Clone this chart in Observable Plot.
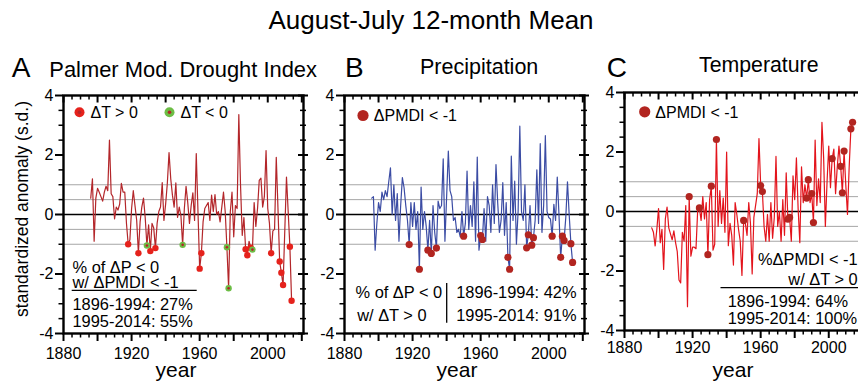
<!DOCTYPE html>
<html><head><meta charset="utf-8">
<script src="https://cdn.jsdelivr.net/npm/d3@7"></script>
<script src="https://cdn.jsdelivr.net/npm/@observablehq/plot@0.6"></script>
<style>
html,body{margin:0;padding:0;background:#fff;}
#root{position:relative;width:858px;height:381px;overflow:hidden;font-family:"Liberation Sans",Arial,Helvetica,sans-serif;}
#root svg{position:absolute;}
</style></head><body><div id="root"></div>
<script>
// ---------------- data ----------------
const firstYear = 1896;   // series run 1896 ... 2014
// Palmer Modified Drought Index (standardized)
const pmdi = [
  0.55, 1.2, -0.9, 0.55,
  0.88, 0.75, 0.6, 0.45, 0.75, 0.95, 0.8, 2.5, 0.7, 0.6,
  -0.15, 0.25, 0.15, 0.35, 1.05, 0.75, 0.75, -0.3, -1.0, -0.85,
  0.2, 0.8, 0.3, -0.2, -1.3, -0.25, 0.25, 0.55, -0.1, -1.04,
  -0.35, -1.23, -0.3, -0.45, -1.13, -0.3, 0.1, 0.25, 1.07, -0.2,
  0.35, 1.05, 2.08, 1.2, 0.65, 0.25, 1.06, -0.1, 0.25, -0.05,
  -1.02, 0.2, 0.95, 0.4, -0.3, 0.3, 0.73, -0.2, 2.05, 0.1,
  -1.82, -1.3, -0.25, 0.2, 0.3, 0.4, -0.2, 0.65, 0.1, 0.67,
  0.0, 0.1, -0.25, 0.25, 0.75, 0.1, -1.1, -2.48, 0.1, 0.75,
  -0.75, 0.3, 0.2, 3.36, 1.0, -0.7, -0.1, -1.17, -1.37, -0.9,
  -1.12, -1.18, 0.4, -0.4, 0.2, 1.15, 1.22, 0.25, 0.6, 2.15,
  0.2, -0.3, -1.3, -0.55, -0.5, 1.92, 0.2, -1.58, -1.96, -2.37,
  -0.55, 1.26, 0.1, -1.08, -2.9
];
// Precipitation (standardized)
const precip = [
  0.55, 0.6, -1.2, -0.3,
  0.4, 0.1, 0.75, 0.5, 0.8, 0.6, 1.1, 1.57, 0.0, 1.0,
  -0.2, 0.7, -0.9, 0.3, 1.24, 0.9, 0.3, -0.2, -1.01, 0.4,
  -0.4, 0.4, -0.5, 0.1, -1.84, 0.92, -0.5, 0.1, -0.4, -1.2,
  -0.2, -1.31, 0.3, -0.6, -1.13, 0.45, 0.2, 0.3, 1.87, -0.9,
  0.6, 2.13, 0.8, 0.6, -0.2, -0.1, -0.6, -0.5, -0.75, 0.1,
  -0.73, -0.3, 1.46, -0.5, 0.3, -0.4, 1.1, -0.9, 1.93, -1.2,
  -0.71, -0.84, 0.2, -0.9, 0.6, 0.3, -0.6, 1.0, -0.3, 1.68,
  0.4, -0.6, -0.2, 1.07, -0.7, 0.4, -1.44, -1.84, 1.96, -0.2,
  1.12, -1.0, 0.1, 2.97, 0.1, -0.2, 1.0, -1.12, -0.68, 0.3,
  -1.03, -0.78, -0.2, 1.5, -0.3, 2.38, -0.6, 0.3, 2.65, 0.1,
  -0.1, -0.15, -0.73, 0.34, -0.2, 1.26, 0.0, -1.44, -0.73, -0.87,
  -0.1, 1.1, 0.0, -0.98, -1.61
];
// Temperature (standardized)
const temp = [
  -0.55, -0.7, -1.16, -0.6,
  0.1, -1.05, -0.6, -1.95, -0.25, 0.15, -0.55, -0.75, -0.95, -0.65,
  -1.05, -1.35, -2.3, -2.4, -0.7, -1.0, 0.2, -3.2, 0.5, -1.5,
  -1.2, -1.2, -1.25, 0.05, 0.12, -0.3, 0.5, -0.25, 0.3, -1.45,
  0.4, 0.85, -1.3, -1.1, 2.42, -0.5, 0.7, -0.4, 0.45, -0.7,
  2.0, -1.15, -0.4, -0.8, -1.8, 0.3, -0.1, -0.6, -1.0, -2.15,
  -0.3, -0.4, -0.8, 0.3, -0.4, -2.1, -0.2, 0.2, 0.6, 2.45,
  0.87, 0.67, -0.5, -1.0, -0.1, -1.0, 0.3, -0.9, -0.2, 1.85,
  -0.5, 0.0, -1.0, 0.4, -0.8, 1.3, -0.26, -0.2, -1.0, 1.2,
  0.4, 1.8, 0.1, -1.05, 1.5, 0.3, 0.9, 0.45, 1.07, 0.3,
  0.6, -0.37, 2.4, 0.2, 1.1, 0.3, 3.0, 1.8, -0.5, 1.0,
  2.2, 0.8, 1.78, 2.1, 0.6, 1.5, 2.2, 1.52, 0.63, 2.03,
  0.9, -0.1, 1.5, 2.78, 3.0
];
// years with a PMDI drop below -1 (highlighted)
const droughtYears = [1918, 1924, 1929, 1931, 1934, 1950, 1960, 1961, 1976, 1977,
                      1987, 1988, 1990, 1991, 2002, 2007, 2008, 2009, 2013, 2014];
const xTickLabels = [1880, 1920, 1960, 2000];
const yTickLabels = [-4, -2, 0, 2, 4];
const refLevels = [-1, -0.5, 0.5, 1];
const titleText = "August-July 12-month Mean";
const panelLetters = ["A", "B", "C"];
const panelTitles = ["Palmer Mod. Drought Index", "Precipitation", "Temperature"];
const yAxisLabel = "standardized anomaly (s.d.)";
const xAxisLabel = "year";
const legendA = ["ΔT > 0", "ΔT < 0"];
const legendBC = "ΔPMDI < -1";
const noteA = ["% of ΔP < 0", "w/ ΔPMDI < -1", "1896-1994: 27%", "1995-2014: 55%"];
const noteB = ["% of ΔP < 0", "w/ ΔT > 0", "1896-1994: 42%", "1995-2014: 91%"];
const noteC = ["%ΔPMDI < -1", "w/ ΔT > 0", "1896-1994: 64%", "1995-2014: 100%"];

[pmdi, precip, temp].forEach(s => { if (s.length !== 119) throw new Error("series length " + s.length); });

// ---------------- drawing ----------------
const FONT = '"Liberation Sans", Arial, Helvetica, sans-serif';
const root = document.getElementById("root");
const svgNS = "http://www.w3.org/2000/svg";
const ML = 50, MT = 95, FW = 240, FH = 238, MR = 20, MB = 48;
const TXT_SHIFT = -5.5;

const toRows = vals => vals.map((v, i) => ({year: firstYear + i, value: v}));
const rowsP = toRows(pmdi), rowsPr = toRows(precip), rowsT = toRows(temp);
const tempByYear = new Map(rowsT.map(d => [d.year, d.value]));
const pick = rows => rows.filter(d => droughtYears.includes(d.year));

const minorYears = d3.range(1880, 2021, 5).filter(v => v % 20 !== 0);
const majorYears = d3.range(1880, 2021, 20);
const minorLevels = d3.range(-4, 4.001, 0.5).filter(v => v % 2 !== 0);
const majorLevels = [-4, -2, 0, 2, 4];

function mkLine(g, x1, y1, x2, y2, w) {
  const l = document.createElementNS(svgNS, "line");
  l.setAttribute("x1", x1); l.setAttribute("y1", y1);
  l.setAttribute("x2", x2); l.setAttribute("y2", y2);
  l.setAttribute("stroke", "#000"); l.setAttribute("stroke-width", w);
  g.appendChild(l);
}
function lineMark(x1, y1, x2, y2, w) {
  return () => {
    const g = document.createElementNS(svgNS, "g");
    mkLine(g, ML + x1, MT + y1, ML + x2, MT + y2, w || 1.2);
    return g;
  };
}
// frame tick marks as Plot tick marks (full-frame ticks trimmed with insets)
function frameTickMarks() {
  const k = {stroke: "#000", strokeOpacity: 1};
  return [
    Plot.tickX(minorYears, {x: d => d, insetBottom: FH - 4.5, strokeWidth: 1.5, ...k}),
    Plot.tickX(majorYears, {x: d => d, insetBottom: FH - 7.5, strokeWidth: 2, ...k}),
    Plot.tickX(minorYears, {x: d => d, insetTop: FH, insetBottom: -4.5, strokeWidth: 1.5, ...k}),
    Plot.tickX(majorYears, {x: d => d, insetTop: FH, insetBottom: -8, strokeWidth: 2, ...k}),
    Plot.tickY(minorLevels, {y: d => d, insetRight: FW, insetLeft: -4.5, strokeWidth: 1.5, ...k}),
    Plot.tickY(majorLevels, {y: d => d, insetRight: FW, insetLeft: -8, strokeWidth: 2, ...k}),
    Plot.tickY(minorLevels, {y: d => d, insetLeft: FW - 3, insetRight: -3, strokeWidth: 1.5, ...k}),
    Plot.tickY(majorLevels, {y: d => d, insetLeft: FW - 5, insetRight: -5, strokeWidth: 2, ...k})
  ];
}
function note(txt, dx, dy, anchor) {
  return Plot.text([txt], {text: d => d, frameAnchor: "top-left", dx, dy: dy + TXT_SHIFT,
    textAnchor: anchor || "start", fontSize: 16.4, fill: "#000"});
}
function legendText(txt, dx, dy) {
  return Plot.text([txt], {text: d => d, frameAnchor: "top-left", dx, dy: dy + TXT_SHIFT,
    textAnchor: "start", fontSize: 16, fill: "#000"});
}

function panel({left, top, rows, color, dots, extra, xPad}) {
  const chart = Plot.plot({
    width: ML + FW + MR, height: MT + FH + MB,
    marginLeft: ML, marginRight: MR, marginTop: MT, marginBottom: MB,
    x: {domain: [1880, 2021]},
    y: {domain: [-4, 4]},
    style: {fontFamily: FONT, fontSize: "16px", background: "transparent", color: "#000", overflow: "visible"},
    marks: [
      Plot.ruleY(refLevels, {stroke: "#a6a6a6", strokeWidth: 1}),
      Plot.ruleY([0], {stroke: "#000", strokeWidth: 1.3}),
      Plot.line(rows, {x: "year", y: "value", stroke: color, strokeWidth: 1.2}),
      ...dots,
      Plot.frame({stroke: "#000", strokeWidth: 2.4}),
      ...frameTickMarks(),
      Plot.axisX({anchor: "bottom", ticks: xTickLabels, tickSize: 0, tickPadding: xPad, tickFormat: d => String(d), fontSize: 16, label: null}),
      Plot.axisY({anchor: "left", ticks: yTickLabels, tickSize: 0, tickPadding: 10, tickFormat: d => String(d), fontSize: 16, label: null}),
      ...extra
    ]
  });
  chart.style.left = left + "px";
  chart.style.top = top + "px";
  root.appendChild(chart);
}

const RED_A = "#e5221c", GREEN_A = "#6cbd45", LINE_A = "#b3262a";
const DOT_BC = "#b22520";

// Panel A
const dA = pick(rowsP);
panel({
  left: 13, top: 0, rows: rowsP, color: LINE_A, xPad: 14,
  dots: [
    Plot.dot(dA, {x: "year", y: "value", r: 3.2, fill: d => tempByYear.get(d.year) > 0 ? RED_A : GREEN_A}),
    Plot.dot(dA.filter(d => tempByYear.get(d.year) < 0), {x: "year", y: "value", r: 1.3, fill: LINE_A})
  ],
  extra: [
    Plot.dot([0], {frameAnchor: "top-left", dx: 16, dy: 16.7, r: 5, fill: RED_A}),
    Plot.dot([0], {frameAnchor: "top-left", dx: 16, dy: 16.7, r: 1.8, fill: LINE_A}),
    legendText(legendA[0], 27, 16.7),
    Plot.dot([0], {frameAnchor: "top-left", dx: 106, dy: 16.7, r: 5, fill: GREEN_A}),
    Plot.dot([0], {frameAnchor: "top-left", dx: 106, dy: 16.7, r: 1.8, fill: LINE_A}),
    legendText(legendA[1], 117, 16.7),
    note(noteA[0], 9, 171.2),
    note(noteA[1], 9, 186.2),
    lineMark(8.7, 195.3, 133.7, 195.3, 1.3),
    note(noteA[2], 9, 208.8),
    note(noteA[3], 9, 225.8)
  ]
});

// Panel B
panel({
  left: 294, top: 0, rows: rowsPr, color: "#3b4ca4", xPad: 14,
  dots: [Plot.dot(pick(rowsPr), {x: "year", y: "value", r: 3.6, fill: DOT_BC})],
  extra: [
    Plot.dot([0], {frameAnchor: "top-left", dx: 18.5, dy: 20, r: 5.6, fill: DOT_BC}),
    legendText(legendBC, 29.3, 20),
    note(noteB[0], 11, 196.4),
    note(noteB[1], 12.7, 219.8),
    lineMark(102.7, 188, 102.7, 227.7, 1.3),
    note(noteB[2], 111.7, 196.4),
    note(noteB[3], 111.7, 219.8)
  ]
});

// Panel C
panel({
  left: 573.5, top: -3, rows: rowsT, color: "#e3141c", xPad: 11,
  dots: [Plot.dot(pick(rowsT), {x: "year", y: "value", r: 3.6, fill: DOT_BC})],
  extra: [
    Plot.dot([0], {frameAnchor: "top-left", dx: 20.2, dy: 19.3, r: 5.6, fill: DOT_BC}),
    legendText(legendBC, 30.8, 19.3),
    note(noteC[0], 233.2, 166, "end"),
    note(noteC[1], 233.2, 186.8, "end"),
    lineMark(96.5, 195.7, 240, 195.7, 1.3),
    note(noteC[2], 103.2, 208.8),
    note(noteC[3], 103.2, 225.5)
  ]
});

// Outer texts
const ov = d3.select(root).append("svg").attr("width", 858).attr("height", 381)
  .style("left", "0px").style("top", "0px").style("pointer-events", "none")
  .attr("font-family", FONT);
ov.append("text").attr("x", 431).attr("y", 29).attr("text-anchor", "middle").attr("font-size", 26).text(titleText);
const letterX = [11.7, 345, 606.7];
const subX = [49.3, 420, 699];
const subY = [76.5, 74, 72];
const subSize = [21.9, 21.5, 21.3];
panelLetters.forEach((L, i) => {
  ov.append("text").attr("x", letterX[i]).attr("y", 76.5).attr("font-size", 28).text(L);
  ov.append("text").attr("x", subX[i]).attr("y", subY[i]).attr("font-size", subSize[i]).text(panelTitles[i]);
});
ov.append("text").attr("transform", "translate(28.3,209) rotate(-90)").attr("text-anchor", "middle")
  .attr("font-size", 17.5).text(yAxisLabel);
[176, 457, 733].forEach(cx => {
  ov.append("text").attr("x", cx).attr("y", 377).attr("text-anchor", "middle").attr("font-size", 21).text(xAxisLabel);
});
</script>
</body></html>
